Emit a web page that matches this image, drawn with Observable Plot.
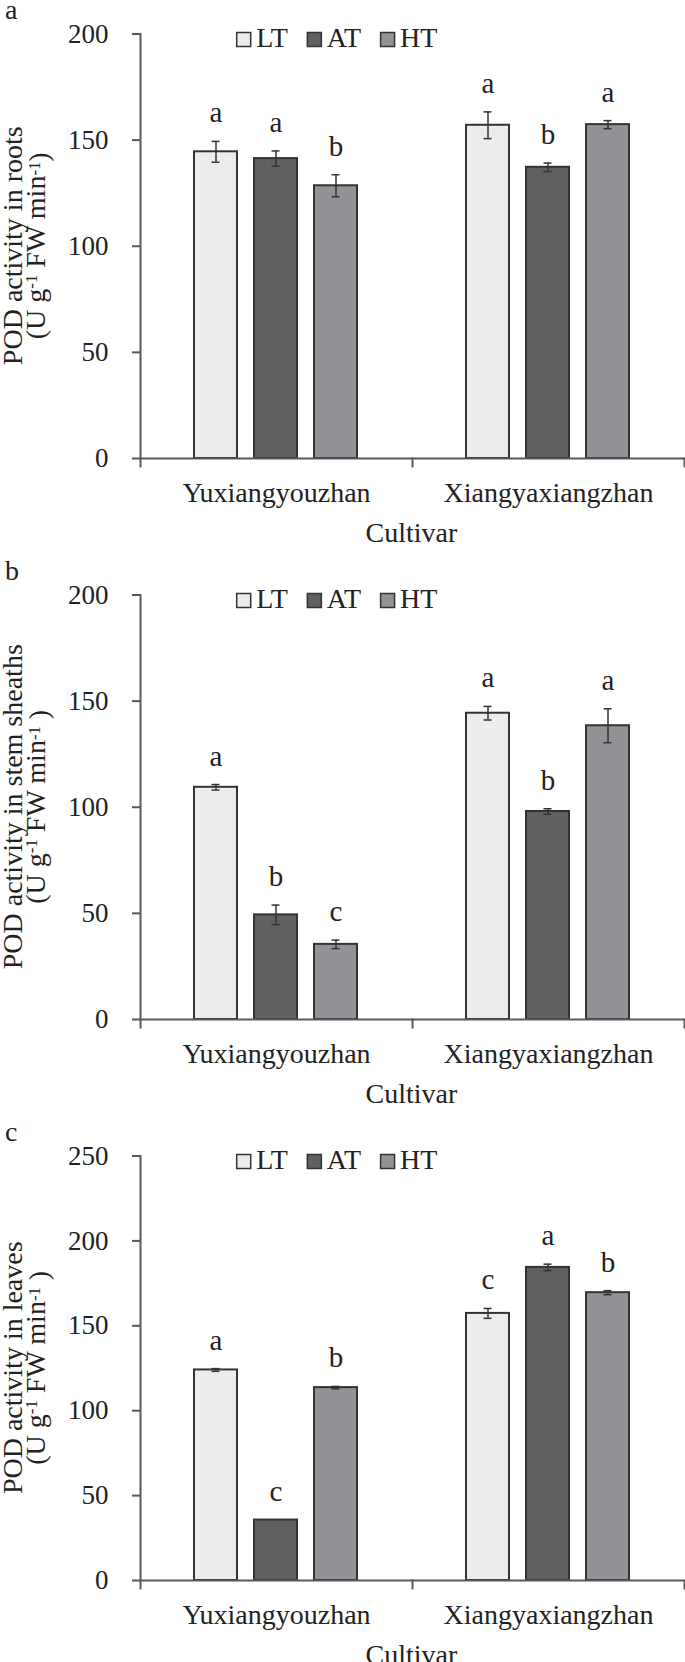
<!DOCTYPE html>
<html>
<head>
<meta charset="utf-8">
<script src="https://cdn.jsdelivr.net/npm/d3@7"></script>
<script src="https://cdn.jsdelivr.net/npm/@observablehq/plot@0.6"></script>
<style>
  html, body { margin: 0; padding: 0; background: #fff; }
  #chart svg { display: block; }
</style>
</head>
<body>
<div id="chart"></div>
<script>
// ---- data ----
const cultivars = ["Yuxiangyouzhan", "Xiangyaxiangzhan"];
const treatments = ["LT", "AT", "HT"];
const colors = ["#ECEDEB", "#5F6062", "#929396"];

// order: Yuxiangyouzhan LT, AT, HT, Xiangyaxiangzhan LT, AT, HT
const rootsMean = [144.5, 141.3, 128.5, 157.0, 137.2, 157.3];
const rootsSE = [4.9, 3.6, 5.2, 6.3, 2.0, 1.9];
const rootsLetters = ["a", "a", "b", "a", "b", "a"];

const stemMean = [109.4, 49.3, 35.4, 144.3, 98.0, 138.4];
const stemSE = [1.3, 4.6, 2.0, 3.2, 1.3, 8.0];
const stemLetters = ["a", "b", "c", "a", "b", "a"];

const leafMean = [124.0, 35.6, 113.6, 157.3, 184.4, 169.5];
const leafSE = [0.8, 0.0, 0.7, 2.9, 1.9, 1.2];
const leafLetters = ["a", "c", "b", "c", "a", "b"];

const rootsTicks = [0, 50, 100, 150, 200];
const stemTicks = [0, 50, 100, 150, 200];
const leafTicks = [0, 50, 100, 150, 200, 250];

const panels = [
  {tag: "a", mean: rootsMean, se: rootsSE, letters: rootsLetters, ticks: rootsTicks,
   title: "POD activity in roots", closing: ")"},
  {tag: "b", mean: stemMean, se: stemSE, letters: stemLetters, ticks: stemTicks,
   title: "POD activity in stem sheaths", closing: " )"},
  {tag: "c", mean: leafMean, se: leafSE, letters: leafLetters, ticks: leafTicks,
   title: "POD activity in leaves", closing: " )"}
];

const FONT = "'Liberation Serif', 'Times New Roman', serif";
const W = 685, H = 561, MT = 33.5, MB = 103, ML = 139, MR = 1;
const AXIS = "#595959";
const INK = "#222";

const chart = document.getElementById("chart");

panels.forEach(p => {
  const data = [];
  cultivars.forEach((c, i) => treatments.forEach((t, j) => {
    const k = i * 3 + j;
    data.push({cultivar: c, treatment: t, value: p.mean[k], se: p.se[k], letter: p.letters[k]});
  }));
  const lo = d => d.value - d.se;
  const hi = d => d.value + d.se;
  const innerH = H - MT - MB;

  const svg = Plot.plot({
    width: W, height: H,
    marginTop: MT, marginBottom: MB, marginLeft: ML, marginRight: MR,
    style: {fontFamily: FONT, fontSize: "27px", color: INK, background: "#fff", overflow: "visible"},
    fx: {domain: cultivars, padding: 0, label: null},
    x: {domain: treatments, paddingInner: 0.281, paddingOuter: 0.904, axis: null},
    y: {domain: [0, p.ticks[p.ticks.length - 1]], axis: null},
    color: {domain: treatments, range: colors},
    marks: [
      Plot.axisY({ticks: p.ticks, tickSize: 8, tickPadding: 24, stroke: AXIS, strokeWidth: 2, fill: INK, label: null, tickFormat: d => String(d)}),
      Plot.axisFx({anchor: "bottom", tickSize: 0, tickPadding: 24, fill: INK, fontSize: 28, label: null}),
      Plot.barY(data, {fx: "cultivar", x: "treatment", y: "value", fill: "treatment", stroke: "#333", strokeWidth: 2}),
      Plot.ruleX(data.filter(d => d.se > 0), {fx: "cultivar", x: "treatment", y1: lo, y2: hi, stroke: "#333", strokeWidth: 1.5}),
      Plot.tickY(data.filter(d => d.se > 0), {fx: "cultivar", x: "treatment", y: lo, stroke: "#333", strokeWidth: 1.5, insetLeft: 17.5, insetRight: 17.5}),
      Plot.tickY(data.filter(d => d.se > 0), {fx: "cultivar", x: "treatment", y: hi, stroke: "#333", strokeWidth: 1.5, insetLeft: 17.5, insetRight: 17.5}),
      Plot.text(data, {fx: "cultivar", x: "treatment", y: hi, text: "letter", dy: -19, lineAnchor: "bottom", fill: INK, fontSize: 29}),
      Plot.ruleY([0], {stroke: AXIS, strokeWidth: 2}),
      Plot.frame({anchor: "left", facetAnchor: "left", insetBottom: -8, stroke: AXIS, strokeWidth: 2}),
      Plot.frame({anchor: "left", facetAnchor: "right", insetTop: innerH, insetBottom: -8, stroke: AXIS, strokeWidth: 2}),
      Plot.frame({anchor: "right", facetAnchor: "right", insetTop: innerH, insetBottom: -8, stroke: AXIS, strokeWidth: 2})
    ]
  });
  chart.appendChild(svg);

  const s = d3.select(svg);
  const cy = MT + innerH / 2;

  // panel tag
  s.append("text").attr("x", 5).attr("y", 19).attr("text-anchor", "start")
    .attr("font-size", 28).attr("fill", INK).text(p.tag);

  // y-axis title, two lines
  s.append("text").attr("transform", `translate(22,${cy}) rotate(-90)`)
    .attr("text-anchor", "middle").attr("font-size", 28).attr("fill", INK).text(p.title);
  const t2 = s.append("text").attr("transform", `translate(45,${cy}) rotate(-90)`)
    .attr("text-anchor", "middle").attr("font-size", 28).attr("fill", INK);
  t2.append("tspan").text("(U g");
  t2.append("tspan").attr("dy", "-0.45em").attr("font-size", "0.6em").text("-1");
  t2.append("tspan").attr("dy", "0.27em").text(" FW min");
  t2.append("tspan").attr("dy", "-0.27em").attr("font-size", "0.6em").text("-1");
  t2.append("tspan").attr("dy", "0.27em").text(p.closing);

  // x-axis title
  s.append("text").attr("x", (ML + W - MR) / 2).attr("y", 542).attr("text-anchor", "middle")
    .attr("font-size", 28).attr("fill", INK).text("Cultivar");

  // legend
  const lg = s.append("g").attr("text-anchor", "start");
  let x = 236.7;
  treatments.forEach((t, i) => {
    lg.append("rect").attr("x", x).attr("y", 32.5).attr("width", 14).attr("height", 14)
      .attr("fill", colors[i]).attr("stroke", "#333").attr("stroke-width", 1.5);
    const tx = lg.append("text").attr("x", x + 19.5).attr("y", 46.7).attr("font-size", 28)
      .attr("text-anchor", "start").attr("fill", INK).text(t);
    x = x + 19.5 + tx.node().getComputedTextLength() + 19.5;
  });
});
</script>
</body>
</html>
